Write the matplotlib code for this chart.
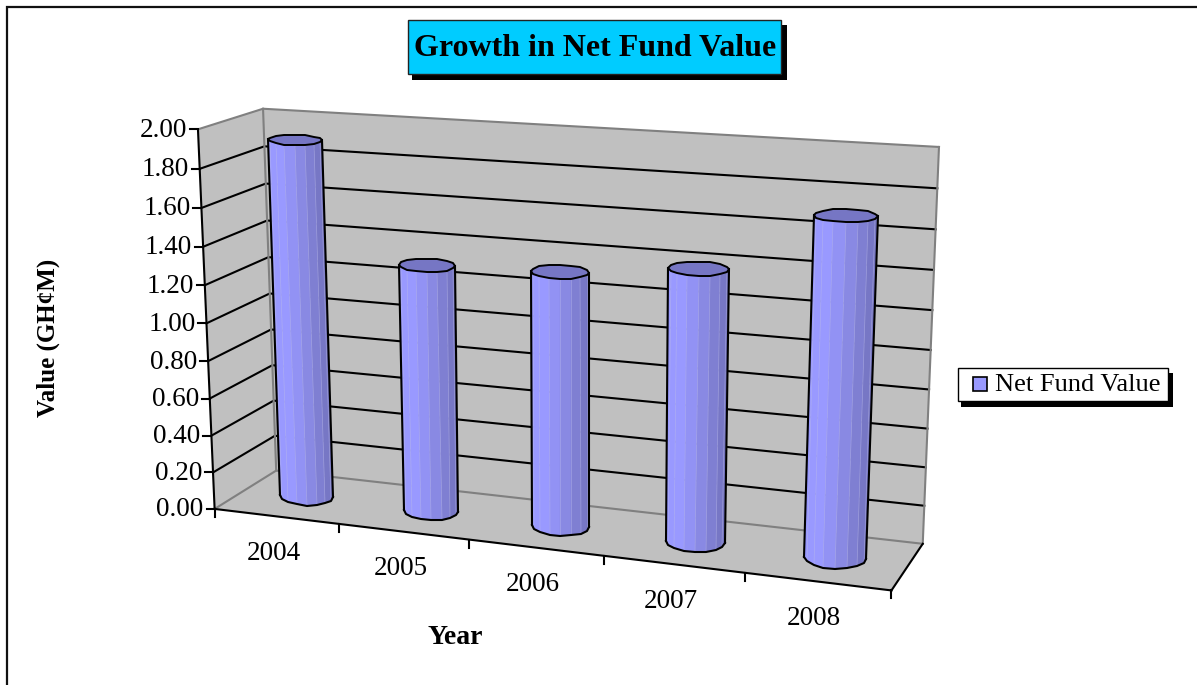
# plot.py
# Growth in Net Fund Value - 3D style cylinder columns drawn on a flat axes.
# Output: out.png

import numpy as np
import matplotlib
matplotlib.use("Agg")
import matplotlib.pyplot as plt
from matplotlib.patches import Polygon, Rectangle

plt.rcParams["font.family"] = ["Liberation Serif", "DejaVu Serif"]

# =========================
# Data
# =========================
years = ["2004", "2005", "2006", "2007", "2008"]
fund_values = [1.91, 1.31, 1.33, 1.40, 1.71]
value_ticks = [0.0, 0.2, 0.4, 0.6, 0.8, 1.0, 1.2, 1.4, 1.6, 1.8, 2.0]

W, H = 1197, 685
N_CAT = len(years)
V_MAX = 2.0

WALL = "#C0C0C0"
EDGE = "#808080"
BAR_LIGHT = np.array([0x99, 0x99, 0xFF]) / 255
BAR_DARK = np.array([0x72, 0x72, 0xBC]) / 255
BAR_TOP = "#7676C4"

# (category pos, value, depth) -> pixel, known corners of the plot box
CALIB = [
    ((0, 0, 0), (215, 508)),
    ((0, 2, 0), (198, 129)),
    ((0, 0, 1), (276, 471)),
    ((0, 2, 1), (263, 109)),
    ((5, 0, 1), (923, 543)),
    ((5, 2, 1), (939, 147)),
    ((5, 0, 0), (891, 590)),
    ((1, 0, 0), (339, 524)),
    ((2, 0, 0), (469, 540)),
    ((4, 0, 0), (745, 574)),
]


def fit_projection(points):
    rows, rhs = [], []
    for (x, y, z), (u, v) in points:
        rows.append([x, y, z, 1, 0, 0, 0, 0, -u * x, -u * y, -u * z])
        rhs.append(u)
        rows.append([0, 0, 0, 0, x, y, z, 1, -v * x, -v * y, -v * z])
        rhs.append(v)
    sol = np.linalg.lstsq(np.array(rows, float), np.array(rhs, float), rcond=None)[0]
    return np.append(sol, 1.0).reshape(3, 4)


PROJ = fit_projection(CALIB)


def pt(x, y, z):
    out = PROJ @ np.array([x, y, z, 1.0])
    return float(out[0] / out[2]), float(out[1] / out[2])


def draw_box(ax):
    back = [pt(0, 0, 1), pt(5, 0, 1), pt(5, 2, 1), pt(0, 2, 1)]
    side = [pt(0, 0, 0), pt(0, 0, 1), pt(0, 2, 1), pt(0, 2, 0)]
    floor = [pt(0, 0, 0), pt(5, 0, 0), pt(5, 0, 1), pt(0, 0, 1)]
    for poly in (back, side, floor):
        ax.add_patch(Polygon(poly, closed=True, facecolor=WALL, edgecolor="none", zorder=1))

    # gridlines run across the side wall and the back wall
    for v in value_ticks:
        color = EDGE if v in (0.0, V_MAX) else "black"
        xs = [pt(0, v, 0)[0], pt(0, v, 1)[0], pt(5, v, 1)[0]]
        ys = [pt(0, v, 0)[1], pt(0, v, 1)[1], pt(5, v, 1)[1]]
        ax.plot(xs, ys, color=color, lw=1.5, solid_joinstyle="miter", zorder=2)

    # grey wall corners
    for x in (0, 5):
        a, b = pt(x, 0, 1), pt(x, 2, 1)
        ax.plot([a[0], b[0]], [a[1], b[1]], color=EDGE, lw=1.5, zorder=2)

    # axes
    a, b = pt(0, 0, 0), pt(0, 2, 0)
    ax.plot([a[0], b[0]], [a[1], b[1]], color="black", lw=1.5, zorder=3)
    a, b = pt(0, 0, 0), pt(5, 0, 0)
    ax.plot([a[0], b[0]], [a[1], b[1]], color="black", lw=1.5, zorder=3)
    c = pt(5, 0, 1)
    ax.plot([b[0], c[0]], [b[1], c[1]], color="black", lw=1.5, zorder=3)


def draw_ticks(ax):
    for v in value_ticks:
        u0, v0 = pt(0, v, 0)
        ax.plot([u0 - 8, u0], [v0, v0], color="black", lw=1.5, zorder=3)
        ax.annotate(f"{v:.2f}", (u0, v0), xytext=(-11, -1), textcoords="offset pixels",
                    ha="right", va="center", fontsize=19.5, color="black")
    for i in range(N_CAT + 1):
        u0, v0 = pt(i, 0, 0)
        ax.plot([u0, u0], [v0, v0 + 8], color="black", lw=1.5, zorder=3)
    for i, year in enumerate(years):
        u0, v0 = pt(i + 0.5, 0, 0)
        ax.annotate(year, (u0, v0), xytext=(-3, -37), textcoords="offset pixels",
                    ha="center", va="center", fontsize=19.5, color="black")


def ring(cx, value, ang, rx, rz):
    # level ellipse around the projected column centre, in whole pixels
    cu, cv = pt(cx, value, 0.5)
    lu, lv = pt(cx - rx, value, 0.5)
    ru, rv = pt(cx + rx, value, 0.5)
    fv = pt(cx, value, 0.5 - rz)[1]
    bv = pt(cx, value, 0.5 + rz)[1]
    half_w = (ru - lu) / 2
    half_h = (fv - bv) / 2
    tilt = 0.3 * (rv - lv) / 2
    u = cu + half_w * np.cos(ang)
    v = cv - half_h * np.sin(ang) + tilt * np.cos(ang)
    return np.round(u), np.round(v)


def draw_cylinder(ax, i, value, n_sides=16, rx=0.215, rz=0.235):
    z0 = 5 + i
    cx = i + 0.5
    ang = np.linspace(0, 2 * np.pi, n_sides + 1)
    base_u, base_v = ring(cx, 0.0, ang, rx, rz)
    top_u, top_v = ring(cx, value, ang, rx, rz)

    # front half facets, lightest about a quarter of the way in from the left
    half = n_sides // 2
    for k in range(half, n_sides):
        mid = np.cos((ang[k] + ang[k + 1]) / 2)
        t = np.clip((mid + 0.55) / 1.55, 0, 1) ** 1.2
        col = BAR_LIGHT * (1 - t) + BAR_DARK * t
        quad = [(base_u[k], base_v[k]), (base_u[k + 1], base_v[k + 1]),
                (top_u[k + 1], top_v[k + 1]), (top_u[k], top_v[k])]
        ax.add_patch(Polygon(quad, closed=True, facecolor=col, edgecolor=col, lw=0.4, zorder=z0))
        ax.plot([base_u[k], top_u[k]], [base_v[k], top_v[k]], color="#B8B8F0", lw=0.5,
                alpha=0.6, zorder=z0 + 0.1)

    # silhouette
    ax.plot([base_u[half], top_u[half]], [base_v[half], top_v[half]], color="black", lw=1.5, zorder=z0 + 0.2)
    ax.plot([base_u[0], top_u[0]], [base_v[0], top_v[0]], color="black", lw=1.5, zorder=z0 + 0.2)
    ax.plot(base_u[half:], base_v[half:], color="black", lw=1.5, solid_joinstyle="round", zorder=z0 + 0.2)
    ax.add_patch(Polygon(np.column_stack([top_u[:-1], top_v[:-1]]), closed=True, facecolor=BAR_TOP,
                         edgecolor="black", lw=1.4, joinstyle="round", zorder=z0 + 0.3))


def draw_chrome(ax):
    # chart frame runs off the right and bottom of the image
    ax.plot([6.5, 6.5, W], [H, 7, 7], color="#111111", lw=1.6, solid_joinstyle="miter", zorder=20)

    # title box
    ax.add_patch(Rectangle((412, 25), 375, 55, facecolor="black", edgecolor="none", zorder=20))
    ax.add_patch(Rectangle((407.5, 19.5), 373, 54.5, facecolor="#00CCFF", edgecolor="#222222", lw=1.0, zorder=21))
    ax.text(595, 48, "Growth in Net Fund Value", ha="center", va="center",
            fontsize=23, fontweight="bold", color="black", zorder=22)

    # legend box
    ax.add_patch(Rectangle((961, 373), 212, 34, facecolor="black", edgecolor="none", zorder=20))
    ax.add_patch(Rectangle((957.5, 367.5), 210, 33.5, facecolor="white", edgecolor="black", lw=1.0, zorder=21))
    ax.add_patch(Rectangle((973, 377), 14, 14, facecolor="#9999FF", edgecolor="black", lw=1.2, zorder=22))
    ax.text(995, 385, "Net Fund Value", ha="left", va="center", fontsize=19, color="black", zorder=22)

    # axis titles
    ax.text(48, 338, "Value (GH¢M)", rotation=90, ha="center", va="center",
            fontsize=18, fontweight="bold", color="black")
    ax.text(455, 638, "Year", ha="center", va="center",
            fontsize=20, fontweight="bold", color="black")


def main():
    fig = plt.figure(figsize=(W / 100, H / 100), dpi=100, facecolor="white")
    ax = fig.add_axes([0, 0, 1, 1])
    ax.set_xlim(0, W)
    ax.set_ylim(H, 0)
    ax.axis("off")

    draw_box(ax)
    draw_ticks(ax)
    for i, value in enumerate(fund_values):
        draw_cylinder(ax, i, value)
    draw_chrome(ax)

    fig.savefig("out.png", dpi=100)
    plt.close(fig)


if __name__ == "__main__":
    main()
